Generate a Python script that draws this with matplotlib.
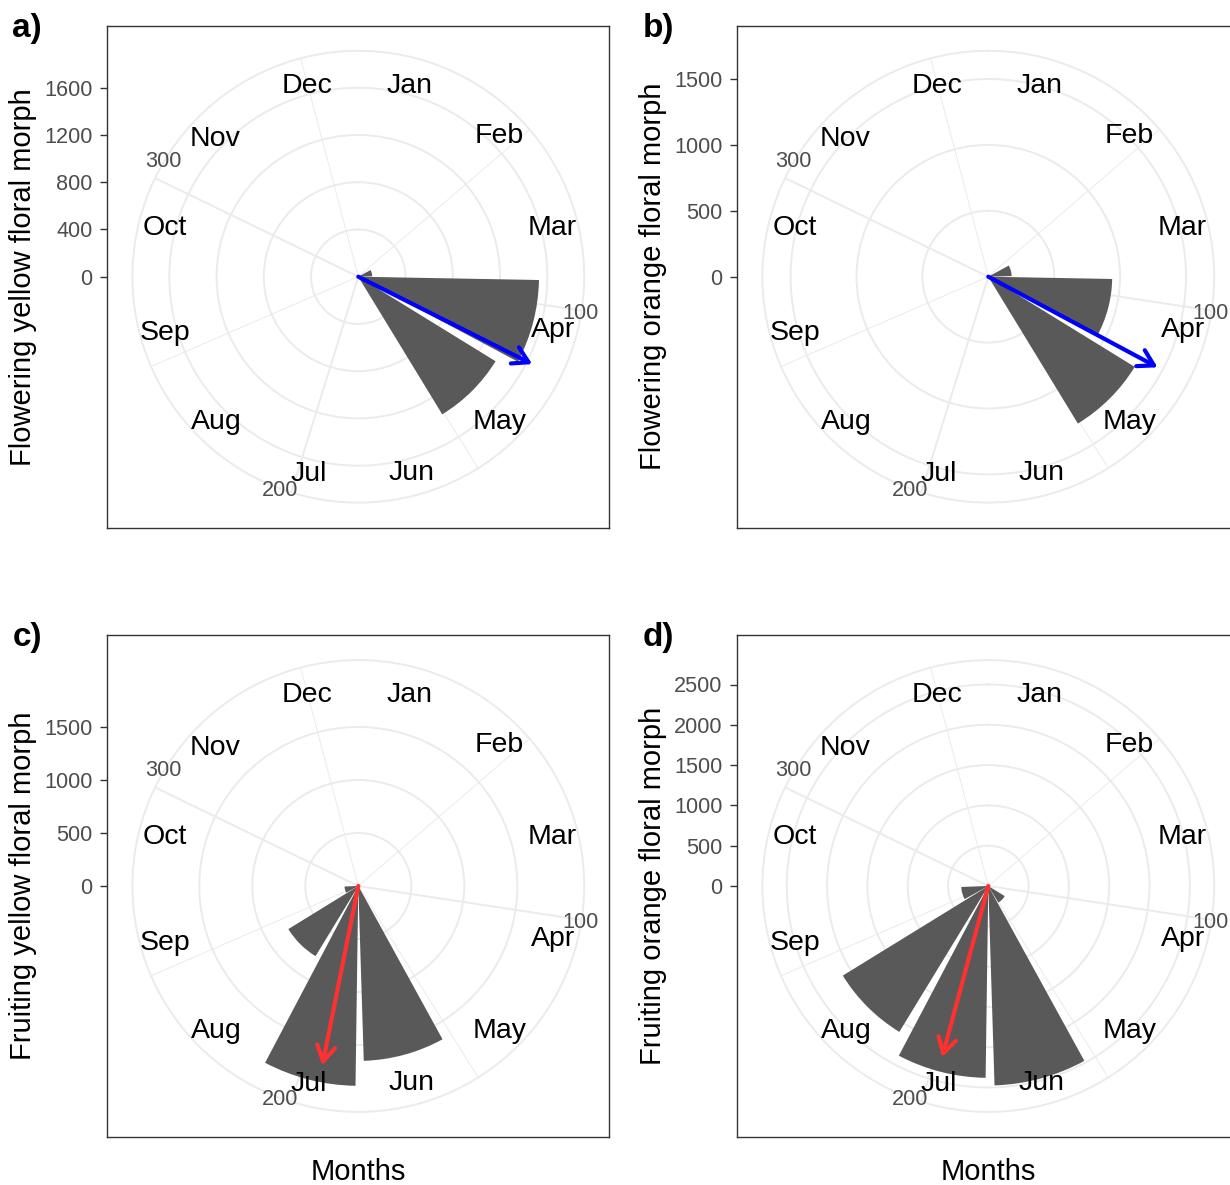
import numpy as np
import matplotlib.pyplot as plt
from matplotlib.patches import ArrowStyle

plt.rcParams['font.family'] = ['Liberation Sans', 'DejaVu Sans']

W, H = 1230, 1185

# Month labels sit at the middle of each month (day of year), bars too
months = ['Jan', 'Feb', 'Mar', 'Apr', 'May', 'Jun', 'Jul', 'Aug', 'Sep', 'Oct', 'Nov', 'Dec']
month_days = [15, 45, 76, 106, 137, 167, 197, 228, 258, 289, 319, 350]

# Counts per month
flower_yellow = [0, 0, 118, 1530, 1365, 0, 0, 0, 0, 0, 0, 0]
flower_orange = [0, 0, 177, 940, 1305, 0, 0, 0, 0, 0, 0, 0]
fruit_yellow = [0, 0, 0, 0, 0, 1650, 1885, 775, 130, 0, 0, 0]
fruit_orange = [0, 0, 0, 0, 240, 2475, 2380, 2120, 335, 0, 0, 0]

# Mean vector: direction (day of year) and length
arrow_day = [118.3, 119.8, 194.0, 197.8]
arrow_len = [1648, 1457, 1726, 2200]
arrow_col = ['#0000FF', '#0000FF', '#FF3030', '#FF3030']

# Radial axis breaks of each panel
r_ticks = [[0, 400, 800, 1200, 1600],
           [0, 500, 1000, 1500],
           [0, 500, 1000, 1500],
           [0, 500, 1000, 1500, 2000, 2500]]

theta_breaks = [100, 200, 300]
theta_minor = [50, 150, 250, 350]

ylabels = ['Flowering yellow floral morph', 'Flowering orange floral morph',
           'Fruiting yellow floral morph', 'Fruiting orange floral morph']
tags = ['a)', 'b)', 'c)', 'd)']
counts = [flower_yellow, flower_orange, fruit_yellow, fruit_orange]

# layout in pixels (left, top of the panel box), box size, pixels per count
boxes = [(107.3, 25.7), (737.3, 25.7), (107.3, 635.0), (737.3, 635.0)]
size = 502.0
px_unit = [0.1181, 0.1318, 0.1060, 0.0806]

# offsets (pixels) of the theta break labels from the outer circle
theta_lab_off = [(-1, -3), (-11, 2), (8, 17)]


def day2rad(d):
    return np.deg2rad(np.asarray(d, dtype=float) * 360.0 / 365.0)


fig = plt.figure(figsize=(W / 100, H / 100), dpi=100)

for i in range(4):
    left, top = boxes[i]
    cx, cy = left + size / 2, top + size / 2
    R = size / 2 / px_unit[i]

    # frame with the radial axis on the left (ggplot style)
    fx = fig.add_axes([left / W, 1 - (top + size) / H, size / W, size / H])
    fx.set_xlim(-R, R)
    fx.set_ylim(-R, R)
    fx.set_xticks([])
    fx.set_yticks(r_ticks[i])
    fx.set_yticklabels([str(t) for t in r_ticks[i]])
    fx.tick_params(axis='y', length=4.8, width=1, color='#333333',
                   labelcolor='#4D4D4D', labelsize=15.6, pad=6)
    for s in fx.spines.values():
        s.set_color('#333333')
        s.set_linewidth(1)

    # polar panel
    rp = 0.45 * size
    pax = fig.add_axes([(cx - rp) / W, 1 - (cy + rp) / H, 2 * rp / W, 2 * rp / H],
                       projection='polar')
    pax.patch.set_alpha(0)
    pax.set_theta_zero_location('N')
    pax.set_theta_direction(-1)
    rlim = rp / px_unit[i]
    pax.set_ylim(0, rlim)
    pax.set_axisbelow(True)

    pax.set_xticks(day2rad(theta_breaks))
    pax.set_xticks(day2rad(theta_minor), minor=True)
    pax.set_xticklabels([])
    pax.set_yticks(r_ticks[i][1:])
    pax.set_yticklabels([])
    pax.tick_params(length=0, which='both')
    pax.xaxis.grid(True, which='major', color='#EBEBEB', lw=1.4)
    pax.xaxis.grid(True, which='minor', color='#EBEBEB', lw=0.7)
    pax.yaxis.grid(True, color='#EBEBEB', lw=1.4)
    pax.spines['polar'].set_color('#EBEBEB')
    pax.spines['polar'].set_linewidth(1.4)

    pax.bar(day2rad(month_days), counts[i], width=np.deg2rad(0.9 * 30),
            color='#595959', linewidth=0, zorder=2)

    pax.annotate('', xy=(day2rad(arrow_day[i]), arrow_len[i]), xytext=(0, 0),
                 arrowprops=dict(arrowstyle=ArrowStyle('->', head_length=11, head_width=6.5),
                                 color=arrow_col[i], lw=3, shrinkA=0, shrinkB=0,
                                 mutation_scale=1),
                 zorder=3)

    r_lab = 0.4 * size / px_unit[i]
    for m, d in zip(months, month_days):
        pax.text(day2rad(d), r_lab, m, ha='center', va='center_baseline',
                 fontsize=20.5, color='black', zorder=4)

    for b, off in zip(theta_breaks, theta_lab_off):
        pax.annotate(str(b), xy=(day2rad(b), rlim), xytext=off,
                     textcoords='offset pixels', ha='center', va='center',
                     fontsize=15.6, color='#4D4D4D', annotation_clip=False, zorder=5)

    # titles and tags
    fig.text((left - 84) / W, 1 - cy / H, ylabels[i], rotation=90,
             ha='center', va='center', fontsize=21)
    fig.text((left - 95) / W, 1 - (top - 13) / H, tags[i], ha='left', va='top',
             fontsize=24, fontweight='bold')
    if i >= 2:
        fig.text(cx / W, 1 - 1180 / H, 'Months', ha='center', va='baseline', fontsize=21)

fig.savefig('out.png', dpi=100)
